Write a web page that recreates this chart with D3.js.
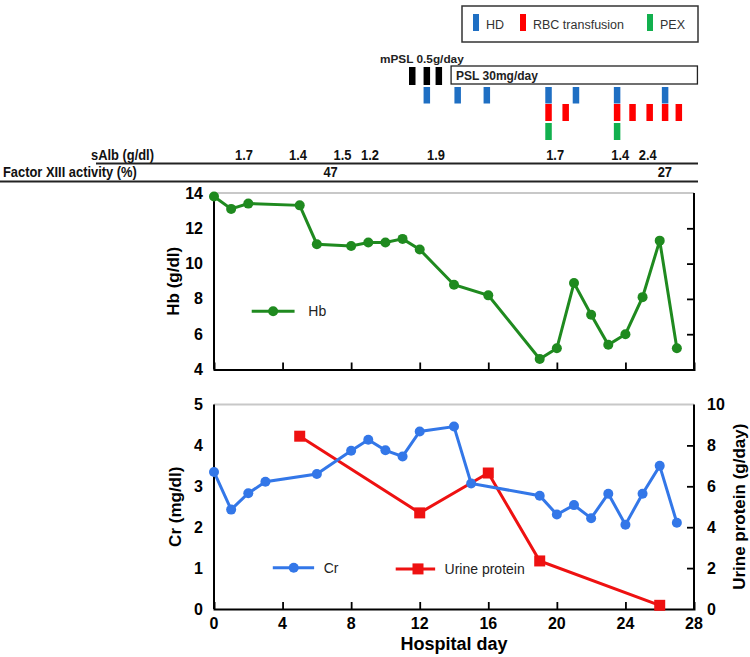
<!DOCTYPE html>
<html><head><meta charset="utf-8">
<script src="https://cdn.jsdelivr.net/npm/d3@7"></script>
<style>
body{margin:0;background:#fff;}
svg{display:block;font-family:Arial,"Liberation Sans",sans-serif;}
</style></head>
<body><svg id="c" width="750" height="657"></svg>
<script>
// ---- data ----
const hbDays = [0,1,2,5,6,8,9,10,11,12,14,16,19,20,21,22,23,24,25,26,27];
const hbValues = [13.8,13.1,13.4,13.3,11.1,11.0,11.2,11.2,11.4,10.8,8.8,8.2,4.6,5.2,8.9,7.1,5.4,6.0,8.1,11.3,5.2];
const crDays = [0,1,2,3,6,8,9,10,11,12,14,15,19,20,21,22,23,24,25,26,27];
const crValues = [3.35,2.43,2.83,3.11,3.30,3.87,4.14,3.88,3.73,4.34,4.46,3.07,2.77,2.31,2.54,2.22,2.82,2.06,2.82,3.50,2.11];
const upDays = [5,12,16,19,26];
const upValues = [8.45,4.7,6.65,2.35,0.18];
const dayTicks = [0,4,8,12,16,20,24,28];
const hbTicks = [4,6,8,10,12,14];
const crTicks = [0,1,2,3,4,5];
const upTicks = [0,2,4,6,8,10];
// treatment timeline (hospital day, schematic)
const mpslDays = [11.55,12.4,13.1];
const pslPeriod = [13.83,28.2];
const hdDays = [12.4,14.2,15.9,19.5,21.1,23.5,26.3];
const rbcDays = [19.5,20.5,23.5,24.4,25.4,26.3,27.1];
const pexDays = [19.5,23.5];
const sAlbDays = [1.75,4.9,7.5,9.1,12.95,19.9,23.7,25.3];
const sAlbValues = ["1.7","1.4","1.5","1.2","1.9","1.7","1.4","2.4"];
const f13Days = [6.8,26.3];
const f13Values = ["47","27"];
const legendItems = ["HD","RBC transfusion","PEX"];

// ---- colours ----
const cHD="#1f6fc3", cRBC="#ff0000", cPEX="#12b04e";
const cHb="#1f8a1f", cCr="#3377e8", cUP="#ee1111";

const svg = d3.select("#c");
const x = d3.scaleLinear().domain([0,28]).range([214,694]);
const yHb = d3.scaleLinear().domain([4,14]).range([369.5,193]);
const yCr = d3.scaleLinear().domain([0,5]).range([609,404.5]);
const yUp = d3.scaleLinear().domain([0,10]).range([609,404.5]);

// condensed bold text helper
function narrowText(px, py, txt, anchor){
  svg.append("text").attr("transform",`translate(${px},${py}) scale(0.86,1)`)
    .attr("text-anchor",anchor).attr("font-size",15).attr("font-weight","bold").attr("fill","#111").text(txt);
}

// ---- legend box ----
svg.append("rect").attr("x",462).attr("y",6).attr("width",236).attr("height",36)
  .attr("fill","#fff").attr("stroke","#333").attr("stroke-width",1.5);
const legX=[476,523,650], legC=[cHD,cRBC,cPEX];
legendItems.forEach((t,i)=>{
  svg.append("rect").attr("x",legX[i]-3).attr("y",14).attr("width",6).attr("height",17).attr("fill",legC[i]);
  svg.append("text").attr("x",legX[i]+10).attr("y",28.5).attr("font-size",12.5).attr("fill","#333").text(t);
});

// ---- timeline ----
svg.append("text").attr("x",380).attr("y",63).attr("font-size",11.8).attr("font-weight","bold").attr("fill","#222").text("mPSL 0.5g/day");
svg.selectAll(".mpsl").data(mpslDays).join("rect").attr("x",d=>x(d)-3).attr("y",67).attr("width",6.5).attr("height",18).attr("fill","#000");
svg.append("rect").attr("x",x(pslPeriod[0])).attr("y",66).attr("width",x(pslPeriod[1])-x(pslPeriod[0])).attr("height",18)
  .attr("fill","#fff").attr("stroke","#222").attr("stroke-width",1.3);
svg.append("text").attr("x",x(pslPeriod[0])+5).attr("y",80).attr("font-size",12).attr("font-weight","bold").attr("fill","#222").text("PSL 30mg/day");
svg.selectAll(".hd").data(hdDays).join("rect").attr("x",d=>x(d)-3).attr("y",87).attr("width",6.5).attr("height",16.5).attr("fill",cHD);
svg.selectAll(".rbc").data(rbcDays).join("rect").attr("x",d=>x(d)-3).attr("y",104).attr("width",6.5).attr("height",17).attr("fill",cRBC);
svg.selectAll(".pex").data(pexDays).join("rect").attr("x",d=>x(d)-3).attr("y",123).attr("width",6.5).attr("height",17).attr("fill",cPEX);

// ---- sAlb / Factor XIII rows ----
narrowText(154,159.5,"sAlb (g/dl)","end");
sAlbDays.forEach((d,i)=>narrowText(x(d),159.5,sAlbValues[i],"middle"));
svg.append("line").attr("x1",96).attr("x2",698).attr("y1",163.5).attr("y2",163.5).attr("stroke","#222").attr("stroke-width",1.8);
narrowText(3,177,"Factor XIII activity (%)","start");
f13Days.forEach((d,i)=>narrowText(x(d),177,f13Values[i],"middle"));
svg.append("line").attr("x1",0).attr("x2",698).attr("y1",181.5).attr("y2",181.5).attr("stroke","#222").attr("stroke-width",1.8);

// ---- helper: frame with inward ticks ----
function frame(yScale, yTop, yBot){
  svg.append("line").attr("x1",x(0)).attr("x2",x(28)).attr("y1",yTop).attr("y2",yTop).attr("stroke","#c8c8c8").attr("stroke-width",2);
  svg.append("line").attr("x1",x(0)).attr("x2",x(0)).attr("y1",yTop).attr("y2",yBot).attr("stroke","#000").attr("stroke-width",2);
  svg.append("line").attr("x1",x(28)).attr("x2",x(28)).attr("y1",yTop).attr("y2",yBot).attr("stroke","#000").attr("stroke-width",2);
  const xa = svg.append("g").attr("transform",`translate(0,${yBot})`)
    .call(d3.axisBottom(x).tickValues(dayTicks.slice(1,-1)).tickSize(-7).tickFormat(""));
  xa.select(".domain").attr("stroke","#000").attr("stroke-width",2);
  xa.selectAll("line").attr("stroke","#000").attr("stroke-width",1.8);
  const ra = svg.append("g").attr("transform",`translate(${x(28)},0)`)
    .call(d3.axisLeft(yScale).ticks(5).tickSize(7).tickFormat(""));
  ra.select(".domain").remove();
  ra.selectAll("line").attr("stroke","#000").attr("stroke-width",1.8)
    .filter(d=>Math.abs(yScale(d)-yTop)<1 || Math.abs(yScale(d)-yBot)<1).remove();
}

// ---- Hb chart ----
frame(yHb, yHb(14), yHb(4));
svg.selectAll(".hbt").data(hbTicks).join("text").attr("x",203).attr("y",d=>yHb(d)+5.5).attr("text-anchor","end")
  .attr("font-size",16).attr("font-weight","bold").text(d=>d);
svg.append("text").attr("transform",`translate(179,${(yHb(4)+yHb(14))/2}) rotate(-90)`).attr("text-anchor","middle")
  .attr("font-size",17).attr("font-weight","bold").text("Hb (g/dl)");
const hbData = hbDays.map((d,i)=>[d,hbValues[i]]);
svg.append("path").datum(hbData).attr("fill","none").attr("stroke",cHb).attr("stroke-width",3)
  .attr("d",d3.line().x(d=>x(d[0])).y(d=>yHb(d[1])));
svg.selectAll(".hbp").data(hbData).join("circle").attr("cx",d=>x(d[0])).attr("cy",d=>yHb(d[1])).attr("r",5).attr("fill",cHb);
// Hb legend
svg.append("line").attr("x1",x(2.2)).attr("x2",x(4.7)).attr("y1",yHb(7.3)).attr("y2",yHb(7.3)).attr("stroke",cHb).attr("stroke-width",3);
svg.append("circle").attr("cx",x(3.45)).attr("cy",yHb(7.3)).attr("r",5).attr("fill",cHb);
svg.append("text").attr("x",x(5.5)).attr("y",yHb(7.3)+5).attr("font-size",14).attr("fill","#222").text("Hb");

// ---- Cr / Urine protein chart ----
frame(yCr, yCr(5), yCr(0));
svg.selectAll(".crt").data(crTicks).join("text").attr("x",203).attr("y",d=>yCr(d)+5.5).attr("text-anchor","end")
  .attr("font-size",16).attr("font-weight","bold").text(d=>d);
svg.selectAll(".upt").data(upTicks).join("text").attr("x",707).attr("y",d=>yUp(d)+5.5).attr("text-anchor","start")
  .attr("font-size",16).attr("font-weight","bold").text(d=>d);
svg.selectAll(".dt").data(dayTicks).join("text").attr("x",d=>x(d)).attr("y",629).attr("text-anchor","middle")
  .attr("font-size",16).attr("font-weight","bold").text(d=>d);
svg.append("text").attr("x",(x(0)+x(28))/2).attr("y",650).attr("text-anchor","middle")
  .attr("font-size",18).attr("font-weight","bold").text("Hospital day");
svg.append("text").attr("transform",`translate(181,${(yCr(0)+yCr(5))/2}) rotate(-90)`).attr("text-anchor","middle")
  .attr("font-size",17).attr("font-weight","bold").text("Cr (mg/dl)");
svg.append("text").attr("transform",`translate(745,${(yCr(0)+yCr(5))/2}) rotate(-90)`).attr("text-anchor","middle")
  .attr("font-size",17).attr("font-weight","bold").text("Urine protein (g/day)");

const upData = upDays.map((d,i)=>[d,upValues[i]]);
svg.append("path").datum(upData).attr("fill","none").attr("stroke",cUP).attr("stroke-width",3)
  .attr("d",d3.line().x(d=>x(d[0])).y(d=>yUp(d[1])));
svg.selectAll(".upp").data(upData).join("rect").attr("x",d=>x(d[0])-5.5).attr("y",d=>yUp(d[1])-5.5)
  .attr("width",11).attr("height",11).attr("fill",cUP);
const crData = crDays.map((d,i)=>[d,crValues[i]]);
svg.append("path").datum(crData).attr("fill","none").attr("stroke",cCr).attr("stroke-width",3)
  .attr("d",d3.line().x(d=>x(d[0])).y(d=>yCr(d[1])));
svg.selectAll(".crp").data(crData).join("circle").attr("cx",d=>x(d[0])).attr("cy",d=>yCr(d[1])).attr("r",5).attr("fill",cCr);
// legends
svg.append("line").attr("x1",x(3.43)).attr("x2",x(5.84)).attr("y1",yCr(1.01)).attr("y2",yCr(1.01)).attr("stroke",cCr).attr("stroke-width",3);
svg.append("circle").attr("cx",x(4.65)).attr("cy",yCr(1.01)).attr("r",5).attr("fill",cCr);
svg.append("text").attr("x",x(6.4)).attr("y",yCr(1.01)+5).attr("font-size",14).attr("fill","#222").text("Cr");
svg.append("line").attr("x1",x(10.6)).attr("x2",x(12.9)).attr("y1",yCr(0.98)).attr("y2",yCr(0.98)).attr("stroke",cUP).attr("stroke-width",3);
svg.append("rect").attr("x",x(11.9)-5.5).attr("y",yCr(0.98)-5.5).attr("width",11).attr("height",11).attr("fill",cUP);
svg.append("text").attr("x",x(13.45)).attr("y",yCr(0.98)+5).attr("font-size",14).attr("fill","#222").text("Urine protein");
</script></body></html>
